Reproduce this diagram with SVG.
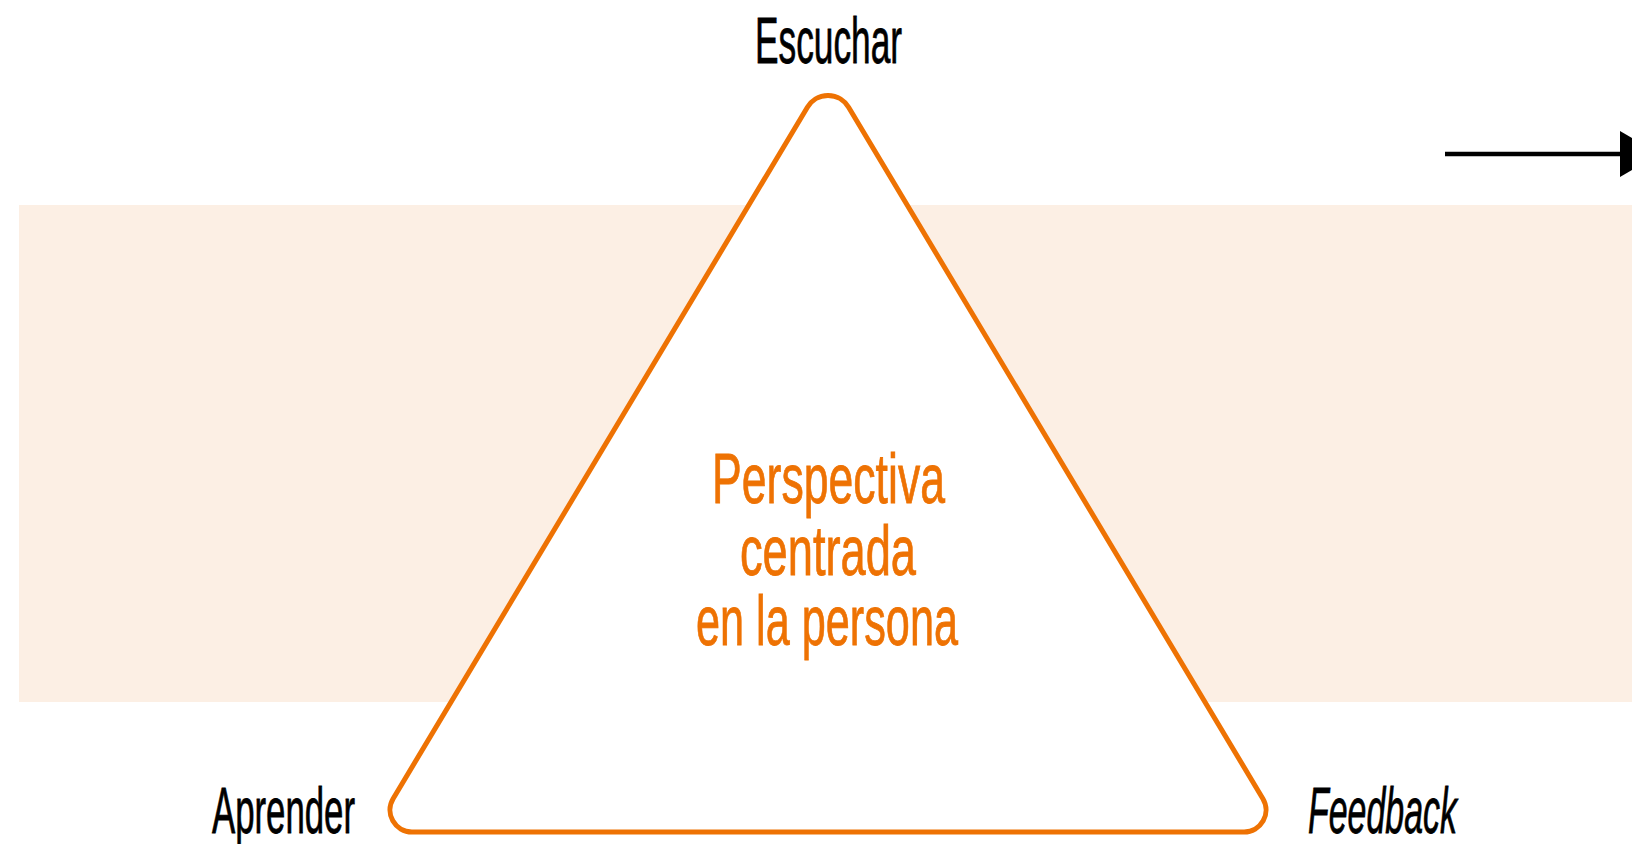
<svg xmlns="http://www.w3.org/2000/svg" width="1632" height="844" viewBox="0 0 1632 844">
  <style>
    .lbl { font-family: "Liberation Sans", Arial, sans-serif; font-size: 65px; fill: #000000; stroke: #000000; stroke-width: 0.8; }
    .center { font-family: "Liberation Sans", Arial, sans-serif; font-size: 70px; fill: #EE7203; stroke: #EE7203; stroke-width: 0.8; }
    .tri { fill: #FFFFFF; stroke: #EE7203; stroke-width: 5; stroke-linejoin: round; }
  </style>
  <rect id="band" x="19" y="205" width="1613" height="497" fill="#FCEFE4"/>
  <g id="connectors">
    <line x1="1445" y1="154" x2="1622" y2="154" stroke="#000000" stroke-width="4.5"/>
    <polygon points="1620,131 1620,177 1660,154" fill="#000000"/>
  </g>
  <g id="triangle">
    <path class="tri" d="M411.9,832 L1244.1,832 A22,22 0 0 0 1262.9,798.7 L848.6,107.3 A24,24 0 0 0 807.4,107.3 L393.1,798.7 A22,22 0 0 0 411.9,832 Z"/>
  </g>
  <g id="center-label">
    <text class="center" x="712" y="503" textLength="233" lengthAdjust="spacingAndGlyphs">Perspectiva</text>
    <text class="center" x="740" y="575" textLength="176" lengthAdjust="spacingAndGlyphs">centrada</text>
    <text class="center" x="696" y="645" textLength="262" lengthAdjust="spacingAndGlyphs">en la persona</text>
  </g>
  <g id="node-escuchar">
    <text class="lbl" x="755" y="63" textLength="147" lengthAdjust="spacingAndGlyphs">Escuchar</text>
  </g>
  <g id="node-aprender">
    <text class="lbl" x="212" y="833" textLength="143" lengthAdjust="spacingAndGlyphs">Aprender</text>
  </g>
  <g id="node-feedback">
    <text class="lbl" x="1308" y="833" font-style="italic" textLength="149" lengthAdjust="spacingAndGlyphs">Feedback</text>
  </g>
</svg>
